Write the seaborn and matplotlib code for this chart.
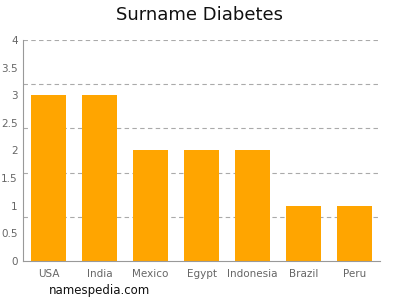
import matplotlib
matplotlib.use("Agg")
import matplotlib.pyplot as plt
import seaborn as sns
import numpy as np
import pandas as pd

countries = ["USA", "India", "Mexico", "Egypt", "Indonesia", "Brazil", "Peru"]
counts = [3, 3, 2, 2, 2, 1, 1]
y_ticks = [0, 0.5, 1, 1.5, 2, 2.5, 3, 3.5, 4]
grid_levels = [0.8, 1.6, 2.4, 3.2, 4.0]

sns.set_style("white")
plt.rcParams['font.family'] = ['DejaVu Sans']

fig = plt.figure(figsize=(4, 3), dpi=100)
ax = fig.add_axes([0.058, 0.13, 0.892, 0.7367])

df = pd.DataFrame({"country": countries, "count": counts})
for g in grid_levels:
    ax.axhline(g, color="#aaaaaa", linestyle=(0, (4, 3)), linewidth=0.8, zorder=0)

sns.barplot(data=df, x="country", y="count", color="#FFA500", saturation=1,
            width=0.69, ax=ax, zorder=2)
for p in ax.patches:
    p.set_edgecolor("none")

ax.set_ylim(0, 4)
ax.set_xlim(-0.5, len(countries) - 0.5)
ax.set_yticks(y_ticks)
ax.set_yticklabels([f"{t:g}" for t in y_ticks])
ax.set_xlabel("")
ax.set_ylabel("")
for s in ["top", "right"]:
    ax.spines[s].set_visible(False)
for s in ["left", "bottom"]:
    ax.spines[s].set_color("#999999")
    ax.spines[s].set_linewidth(0.8)
ax.tick_params(axis="both", colors="#999999", labelcolor="#666666", labelsize=7.5,
               length=3, width=0.8)
ax.tick_params(axis="y", pad=1)
ax.tick_params(axis="x", pad=3)

fig.text(0.5, 0.95, "Surname Diabetes", ha="center", va="center", fontsize=13, color="#111111")
fig.text(0.25, 0.032, "namespedia.com", ha="center", va="center", fontsize=8.5, color="#111111")

fig.savefig("out.png", dpi=100)
